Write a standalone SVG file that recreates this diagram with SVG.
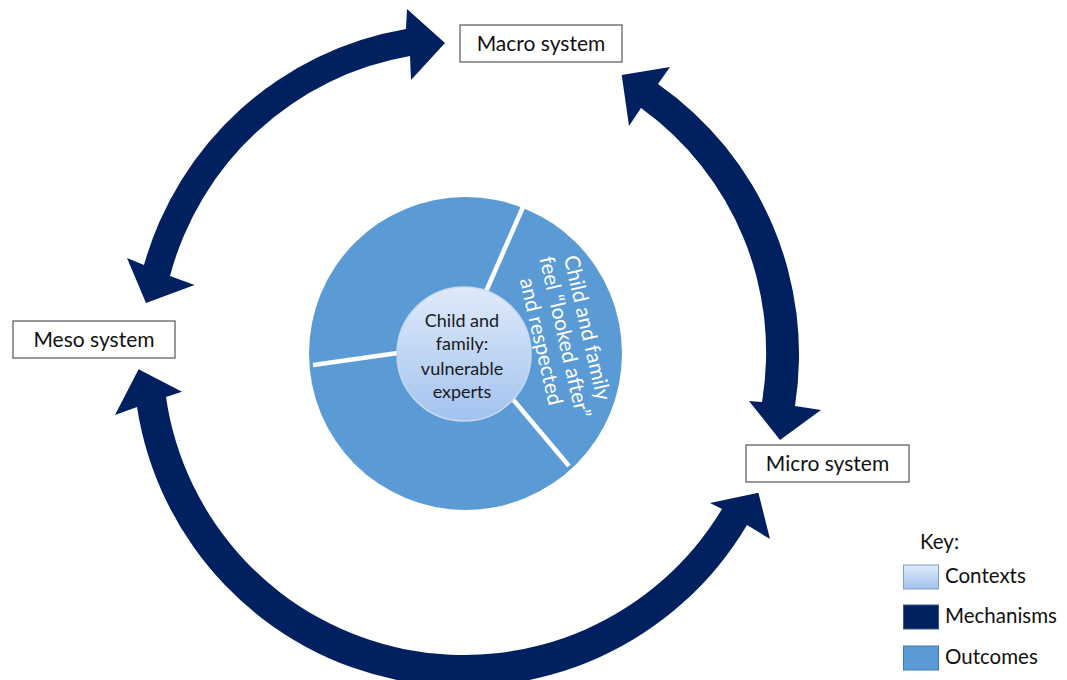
<svg xmlns="http://www.w3.org/2000/svg" width="1067" height="680" viewBox="0 0 1067 680">
  <defs>
    <linearGradient id="ctx" x1="0" y1="0" x2="0" y2="1">
      <stop offset="0" stop-color="#dfeaf9"/>
      <stop offset="1" stop-color="#a3c2ef"/>
    </linearGradient>
    <style>
      .lbl{font-family:Lato,"Liberation Sans",sans-serif;font-size:21px;fill:#111}
      .key{font-family:Lato,"Liberation Sans",sans-serif;font-size:20.5px;fill:#111}
      .box{fill:#fff;stroke:#555;stroke-width:1.2}
      .arr{fill:#002060}
      .div{stroke:#fff;stroke-width:4.5;fill:none}
      .ctr{font-family:Lato,"Liberation Sans",sans-serif;font-size:18px;fill:#1a1a1a;text-anchor:middle}
      .rot{font-family:Lato,"Liberation Sans",sans-serif;font-size:21px;fill:#fff;text-anchor:middle}
    </style>
  </defs>
  <rect width="1067" height="680" fill="#fff"/>

  <g id="connectors">
    <path class="arr" d="M445,43 L407,9 L406,29 A330,330 0 0 0 144,265 L127,258 L146,303 L194.6,285 L170,276 A302,302 0 0 1 410,56 L411,80 Z"/>
    <path class="arr" d="M621.7,75 L670,67 L658,84 A330,330 0 0 1 795,406 L821,410 L780,440 L749,401 L762,402 A301,301 0 0 0 641,108 L629,126 Z"/>
    <path class="arr" d="M138.6,369.3 L115,415 L137,407 A330,330 0 0 0 747,525 L770,539 L758.4,492.7 L710,503 L722,509 A301,301 0 0 1 166,397 L182,391.7 Z"/>
  </g>

  <g id="outcomes">
    <circle cx="465.5" cy="353.5" r="156.5" fill="#5b9bd5"/>
    <line class="div" x1="484" y1="296" x2="523" y2="207"/>
    <line class="div" x1="313" y1="365" x2="405" y2="352"/>
    <line class="div" x1="505" y1="390" x2="569" y2="466"/>
    <g transform="translate(561,339) rotate(77)">
      <text class="rot" x="-5" y="-21">Child and family</text>
      <text class="rot" x="-1" y="3">feel “looked after”</text>
      <text class="rot" x="-2" y="27">and respected</text>
    </g>
  </g>

  <g id="center">
    <circle cx="464" cy="354" r="67" fill="url(#ctx)" stroke="#c8daf2" stroke-width="1.5"/>
    <text class="ctr" x="462" y="327">Child and</text>
    <text class="ctr" x="462" y="350">family:</text>
    <text class="ctr" x="462" y="375">vulnerable</text>
    <text class="ctr" x="462" y="398">experts</text>
  </g>

  <g id="macro">
    <rect class="box" x="460" y="25" width="162" height="37"/>
    <text class="lbl" x="541" y="51" text-anchor="middle">Macro system</text>
  </g>
  <g id="meso">
    <rect class="box" x="13" y="321" width="162" height="37"/>
    <text class="lbl" x="94" y="347" text-anchor="middle">Meso system</text>
  </g>
  <g id="micro">
    <rect class="box" x="746" y="445" width="163" height="37"/>
    <text class="lbl" x="827.5" y="471" text-anchor="middle">Micro system</text>
  </g>

  <g id="key">
    <text class="key" x="920" y="549">Key:</text>
    <rect x="903.5" y="565" width="35" height="24" fill="url(#ctx)" stroke="#7f9fc8" stroke-width="1"/>
    <text class="key" x="945" y="583">Contexts</text>
    <rect x="903.5" y="605" width="35" height="24" fill="#002060" stroke="#3b5a8a" stroke-width="1"/>
    <text class="key" x="945" y="623">Mechanisms</text>
    <rect x="903.5" y="646" width="35" height="24" fill="#5b9bd5" stroke="#4277a8" stroke-width="1"/>
    <text class="key" x="945" y="664">Outcomes</text>
  </g>
</svg>
